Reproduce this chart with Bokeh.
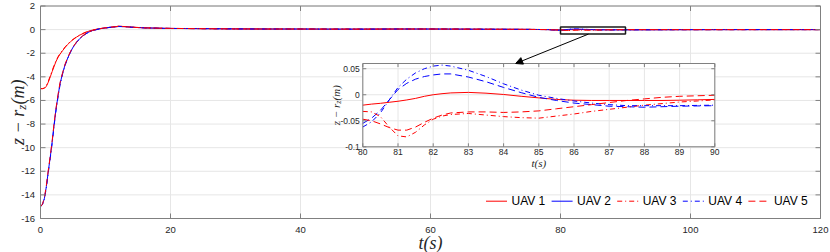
import math
from bokeh.plotting import figure
from bokeh.models import Range1d, Arrow, NormalHead
from bokeh.embed import file_html
from bokeh.resources import INLINE
from bokeh.core.properties import value

# ---------------- data ----------------
SERIES_NAMES = ["UAV 1", "UAV 2", "UAV 3", "UAV 4", "UAV 5"]

T_MAIN = [0, 0.3, 0.6, 0.9, 1.2, 1.5, 1.8, 2.1, 2.4, 2.7,
          3.0, 3.4, 3.8, 4.2, 4.6, 5.0, 5.5, 6.0, 6.5, 7.0,
          7.5, 8.0, 9, 10, 11, 12, 13, 14, 16, 18,
          20, 25, 30, 35, 40, 45, 50, 55, 60, 65,
          70, 75, 78]
UAV1_MAIN = [-5.0, -5.0, -4.97, -4.8, -4.45, -4.0, -3.55, -3.1, -2.68, -2.35,
             -2.08, -1.78, -1.5, -1.25, -1.03, -0.85, -0.65, -0.48, -0.34, -0.22,
             -0.12, -0.04, 0.06, 0.14, 0.21, 0.28, 0.26, 0.21, 0.15, 0.12,
             0.1, 0.08, 0.06, 0.05, 0.05, 0.04, 0.04, 0.05, 0.05, 0.04,
             0.03, 0.02, 0.0]
UAV2_MAIN = [-15.0, -14.8, -14.3, -13.3, -12.0, -10.8, -9.5, -8.0, -6.7, -5.6,
             -4.6, -3.7, -2.95, -2.4, -1.9, -1.5, -1.1, -0.78, -0.53, -0.34,
             -0.19, -0.08, 0.06, 0.15, 0.21, 0.26, 0.25, 0.2, 0.15, 0.12,
             0.1, 0.08, 0.06, 0.05, 0.05, 0.04, 0.04, 0.05, 0.05, 0.04,
             0.03, 0.02, 0.0]
UAV3_MAIN = [-5.0, -5.0, -4.95, -4.75, -4.38, -3.92, -3.47, -3.02, -2.62, -2.3,
             -2.03, -1.74, -1.46, -1.22, -1.0, -0.83, -0.63, -0.47, -0.33, -0.21,
             -0.11, -0.03, 0.07, 0.15, 0.22, 0.29, 0.26, 0.21, 0.15, 0.12,
             0.1, 0.08, 0.06, 0.05, 0.05, 0.04, 0.04, 0.05, 0.05, 0.04,
             0.03, 0.02, 0.0]
UAV4_MAIN = [-15.0, -14.82, -14.35, -13.4, -12.1, -10.9, -9.6, -8.1, -6.8, -5.7,
             -4.7, -3.75, -3.0, -2.42, -1.93, -1.52, -1.12, -0.8, -0.55, -0.35,
             -0.2, -0.09, 0.05, 0.14, 0.21, 0.27, 0.25, 0.2, 0.15, 0.12,
             0.1, 0.08, 0.06, 0.05, 0.05, 0.04, 0.04, 0.05, 0.05, 0.04,
             0.03, 0.02, 0.0]
UAV5_MAIN = [-15.0, -14.78, -14.25, -13.2, -11.9, -10.7, -9.4, -7.9, -6.6, -5.5,
             -4.5, -3.65, -2.9, -2.35, -1.87, -1.47, -1.08, -0.76, -0.52, -0.33,
             -0.18, -0.07, 0.07, 0.16, 0.22, 0.27, 0.25, 0.2, 0.15, 0.12,
             0.1, 0.08, 0.06, 0.05, 0.05, 0.04, 0.04, 0.05, 0.05, 0.04,
             0.03, 0.02, 0.0]

T_ZOOM = [80, 80.25, 80.5, 80.75, 81, 81.25, 81.5, 81.75, 82, 82.25, 82.5,
          83, 83.5, 84, 84.5, 85, 85.5, 86, 86.5, 87, 87.5, 88, 88.5, 89, 89.5, 90]
UAV1_ZOOM = [-0.020, -0.018, -0.0165, -0.0145, -0.0125, -0.010, -0.007, -0.003, 0.000, 0.002, 0.0035,
             0.0045, 0.003, 0.0005, -0.003, -0.006, -0.009, -0.0105, -0.011, -0.011, -0.011, -0.011,
             -0.011, -0.0105, -0.0098, -0.009]
UAV2_ZOOM = [-0.055, -0.045, -0.030, -0.010, 0.010, 0.022, 0.030, 0.035, 0.038, 0.040, 0.040,
             0.034, 0.025, 0.014, 0.004, -0.005, -0.011, -0.016, -0.019, -0.022, -0.023, -0.024,
             -0.023, -0.022, -0.0215, -0.021]
UAV3_ZOOM = [-0.032, -0.033, -0.042, -0.062, -0.079, -0.081, -0.072, -0.058, -0.047, -0.041, -0.038,
             -0.036, -0.039, -0.042, -0.044, -0.045, -0.041, -0.037, -0.032, -0.028, -0.024, -0.020,
             -0.017, -0.014, -0.012, -0.010]
UAV4_ZOOM = [-0.062, -0.052, -0.035, -0.010, 0.014, 0.030, 0.042, 0.050, 0.055, 0.057, 0.055,
             0.047, 0.035, 0.021, 0.009, -0.001, -0.007, -0.012, -0.016, -0.019, -0.021, -0.021,
             -0.021, -0.021, -0.0205, -0.020]
UAV5_ZOOM = [-0.047, -0.050, -0.056, -0.063, -0.068, -0.068, -0.062, -0.053, -0.045, -0.039, -0.035,
             -0.033, -0.033, -0.034, -0.033, -0.031, -0.027, -0.023, -0.019, -0.015, -0.011, -0.008,
             -0.005, -0.003, -0.002, -0.001]

T_TAIL = [95, 100, 105, 110, 115, 120]
UAV1_TAIL = [-0.006, -0.004, -0.002, -0.001, 0.0, 0.0]
UAV2_TAIL = [-0.012, -0.006, -0.003, -0.001, 0.0, 0.0]
UAV3_TAIL = [-0.005, -0.003, -0.002, -0.001, 0.0, 0.0]
UAV4_TAIL = [-0.012, -0.006, -0.003, -0.001, 0.0, 0.0]
UAV5_TAIL = [0.0, 0.0, 0.0, 0.0, 0.0, 0.0]

X_LIM = (0, 120)
Y_LIM = (-16, 2)
X_TICKS = [0, 20, 40, 60, 80, 100, 120]
X_TICK_LABELS = ["0", "20", "40", "60", "80", "100", "120"]
Y_TICKS = [-16, -14, -12, -10, -8, -6, -4, -2, 0, 2]
Y_TICK_LABELS = ["-16", "-14", "-12", "-10", "-8", "-6", "-4", "-2", "0", "2"]

ZOOM_XLIM = (80, 90)
ZOOM_YLIM = (-0.1, 0.06)
ZOOM_XTICKS = [80, 81, 82, 83, 84, 85, 86, 87, 88, 89, 90]
ZOOM_XTICK_LABELS = ["80", "81", "82", "83", "84", "85", "86", "87", "88", "89", "90"]
ZOOM_YTICKS = [-0.1, -0.05, 0, 0.05]
ZOOM_YTICK_LABELS = ["-0.1", "-0.05", "0", "0.05"]

# ---------------- layout / style ----------------
W, H = 830, 252
# axes boxes on the canvas (pixels; x from left, y from bottom)
MAIN_TX = (40, 820)
MAIN_TY = (H - 218, H - 5.5)
INSET_TX = (362.3, 714.3)
INSET_TY = (H - 146.3, H - 63)
ZOOM_BOX_Y = (-0.38, 0.23)
ARROW_X = (84.3, 73.1)          # in main-axis data units
LEG_X0, LEG_PITCH, LEG_Y = 485.5, 65.6, H - 200.7

RED = "#ff0000"
BLUE = "#0000ff"
BOX = "#808080"
GRID = "#e6e6e6"
TXT = "#262626"
DASH = "7 4"
DASHDOT = "5 3 1 3"
SANS = "Liberation Sans"
SERIF = "Liberation Serif"

p = figure(width=W, height=H, x_range=Range1d(0, W), y_range=Range1d(0, H),
           x_axis_type=None, y_axis_type=None, output_backend="svg",
           toolbar_location=None, min_border=0)
p.outline_line_color = None
p.background_fill_color = "white"
p.border_fill_color = "white"


def draw_grid(sub, xlim, ylim, xticks, yticks):
    nx, ny = len(xticks), len(yticks)
    sub.segment(x0=xticks, y0=[ylim[0]] * nx, x1=xticks, y1=[ylim[1]] * nx,
                line_color=GRID, line_width=1)
    sub.segment(x0=[xlim[0]] * ny, y0=yticks, x1=[xlim[1]] * ny, y1=yticks,
                line_color=GRID, line_width=1)


def draw_frame(sub, xlim, ylim, xticks, xlabels, yticks, ylabels, tx, ty, tick_px,
               font_px, xl_off, yl_off, xl_baseline):
    nx, ny = len(xticks), len(yticks)
    sub.quad(left=[xlim[0]], right=[xlim[1]], bottom=[ylim[0]], top=[ylim[1]],
             fill_color=None, line_color=BOX, line_width=1)
    dx = tick_px * (xlim[1] - xlim[0]) / (tx[1] - tx[0])
    dy = tick_px * (ylim[1] - ylim[0]) / (ty[1] - ty[0])
    sub.segment(x0=xticks, y0=[ylim[0]] * nx, x1=xticks, y1=[ylim[0] + dy] * nx,
                line_color=BOX, line_width=1)
    sub.segment(x0=xticks, y0=[ylim[1]] * nx, x1=xticks, y1=[ylim[1] - dy] * nx,
                line_color=BOX, line_width=1)
    sub.segment(x0=[xlim[0]] * ny, y0=yticks, x1=[xlim[0] + dx] * ny, y1=yticks,
                line_color=BOX, line_width=1)
    sub.segment(x0=[xlim[1]] * ny, y0=yticks, x1=[xlim[1] - dx] * ny, y1=yticks,
                line_color=BOX, line_width=1)
    sub.text(x=xticks, y=[ylim[0]] * nx, text=xlabels, y_offset=xl_off,
             text_align="center", text_baseline=xl_baseline, text_font=value(SANS),
             text_font_size=value(f"{font_px}px"), text_color=TXT)
    sub.text(x=[xlim[0]] * ny, y=yticks, text=ylabels, x_offset=yl_off,
             text_align="right", text_baseline="middle", text_font=value(SANS),
             text_font_size=value(f"{font_px}px"), text_color=TXT)


def rotated_label(target, x, y_center, pieces):
    total = sum(pc[3] for pc in pieces)
    acc = 0.0
    for txt, fs, xo, w in pieces:
        target.text(x=[x], y=[y_center], text=[txt], angle=math.pi / 2,
                    x_offset=xo, y_offset=total / 2 - acc,
                    text_align="left", text_baseline="alphabetic", text_font=value(SERIF),
                    text_font_style="italic", text_font_size=value(f"{fs}px"), text_color=TXT)
        acc += w


styles = [
    dict(color=RED, line_dash="solid"),
    dict(color=BLUE, line_dash="solid"),
    dict(color=RED, line_dash=DASHDOT),
    dict(color=BLUE, line_dash=DASHDOT),
    dict(color=RED, line_dash=DASH),
]
inset_styles = [
    dict(color=RED, line_dash="solid"),
    dict(color=BLUE, line_dash=DASH),
    dict(color=RED, line_dash=DASHDOT),
    dict(color=BLUE, line_dash=DASHDOT),
    dict(color=RED, line_dash=DASH),
]
mains = [UAV1_MAIN, UAV2_MAIN, UAV3_MAIN, UAV4_MAIN, UAV5_MAIN]
zooms = [UAV1_ZOOM, UAV2_ZOOM, UAV3_ZOOM, UAV4_ZOOM, UAV5_ZOOM]
tails = [UAV1_TAIL, UAV2_TAIL, UAV3_TAIL, UAV4_TAIL, UAV5_TAIL]
t_all = T_MAIN + T_ZOOM + T_TAIL

# ---------------- main axes ----------------
main = p.subplot(x_source=Range1d(*X_LIM), y_source=Range1d(*Y_LIM),
                 x_target=Range1d(*MAIN_TX), y_target=Range1d(*MAIN_TY))
main.quad(left=[X_LIM[0]], right=[X_LIM[1]], bottom=[Y_LIM[0]], top=[Y_LIM[1]],
          fill_color="white", line_color=None)
draw_grid(main, X_LIM, Y_LIM, X_TICKS, Y_TICKS)
for m, z, tl, st in zip(mains, zooms, tails, styles):
    main.line(t_all, m + z + tl, line_width=1, line_color=st["color"], line_dash=st["line_dash"])
main.quad(left=[ZOOM_XLIM[0]], right=[ZOOM_XLIM[1]], bottom=[ZOOM_BOX_Y[0]], top=[ZOOM_BOX_Y[1]],
          fill_color=None, line_color="#1a1a1a", line_width=1.5)
draw_frame(main, X_LIM, Y_LIM, X_TICKS, X_TICK_LABELS, Y_TICKS, Y_TICK_LABELS,
           MAIN_TX, MAIN_TY, 5, 9.5, 11, -5.5, "middle")

# main axis labels
main.text(x=[(X_LIM[0] + X_LIM[1]) / 2], y=[Y_LIM[0]], text=["t(s)"], y_offset=24,
          text_align="center", text_baseline="middle", text_font=value(SERIF),
          text_font_style="italic", text_font_size=value("18px"), text_color=TXT)
rotated_label(main, X_LIM[0], (Y_LIM[0] + Y_LIM[1]) / 2,
              [("z − r", 18, -23, 35.2), ("z", 13, -19, 5.1), ("(m)", 18, -23, 25.0)])

# ---------------- legend (drawn in canvas pixels) ----------------
for i, (name, st) in enumerate(zip(SERIES_NAMES, styles)):
    x0 = LEG_X0 + i * LEG_PITCH
    p.segment(x0=[x0], y0=[LEG_Y], x1=[x0 + 21], y1=[LEG_Y], line_width=1,
              line_color=st["color"], line_dash=st["line_dash"])
    p.text(x=[x0 + 25.5], y=[LEG_Y], text=[name], text_align="left", text_baseline="middle",
           text_font=value(SANS), text_font_size=value("12px"), text_color="#000000")

# ---------------- inset ----------------
ins = p.subplot(x_source=Range1d(*ZOOM_XLIM), y_source=Range1d(*ZOOM_YLIM),
                x_target=Range1d(*INSET_TX), y_target=Range1d(*INSET_TY))
ins.quad(left=[ZOOM_XLIM[0]], right=[ZOOM_XLIM[1]], bottom=[ZOOM_YLIM[0]], top=[ZOOM_YLIM[1]],
         fill_color="white", line_color=None)
draw_grid(ins, ZOOM_XLIM, ZOOM_YLIM, ZOOM_XTICKS, ZOOM_YTICKS)
for z, st in zip(zooms, inset_styles):
    ins.line(T_ZOOM, z, line_width=1, line_color=st["color"], line_dash=st["line_dash"])
draw_frame(ins, ZOOM_XLIM, ZOOM_YLIM, ZOOM_XTICKS, ZOOM_XTICK_LABELS, ZOOM_YTICKS, ZOOM_YTICK_LABELS,
           INSET_TX, INSET_TY, 3.5, 8.5, 2, -3, "top")
ins.text(x=[(ZOOM_XLIM[0] + ZOOM_XLIM[1]) / 2], y=[ZOOM_YLIM[0]], text=["t(s)"], y_offset=16,
         text_align="center", text_baseline="middle", text_font=value(SERIF),
         text_font_style="italic", text_font_size=value("11px"), text_color=TXT)
rotated_label(ins, ZOOM_XLIM[0], (ZOOM_YLIM[0] + ZOOM_YLIM[1]) / 2,
              [("z − r", 11, -27, 21.5), ("z", 8, -24.5, 3.2), ("(m)", 11, -27, 15.3)])


# ---------------- arrow from zoom box to inset ----------------
def main_x(v):
    return MAIN_TX[0] + (v - X_LIM[0]) * (MAIN_TX[1] - MAIN_TX[0]) / (X_LIM[1] - X_LIM[0])


def main_y(v):
    return MAIN_TY[0] + (v - Y_LIM[0]) * (MAIN_TY[1] - MAIN_TY[0]) / (Y_LIM[1] - Y_LIM[0])


p.add_layout(Arrow(end=NormalHead(size=7, fill_color="black", line_color="black", line_width=1),
                   x_start=main_x(ARROW_X[0]), y_start=main_y(ZOOM_BOX_Y[0]),
                   x_end=main_x(ARROW_X[1]), y_end=INSET_TY[1],
                   line_color="black", line_width=1))

open("out.html", "w").write(file_html(p, INLINE))
